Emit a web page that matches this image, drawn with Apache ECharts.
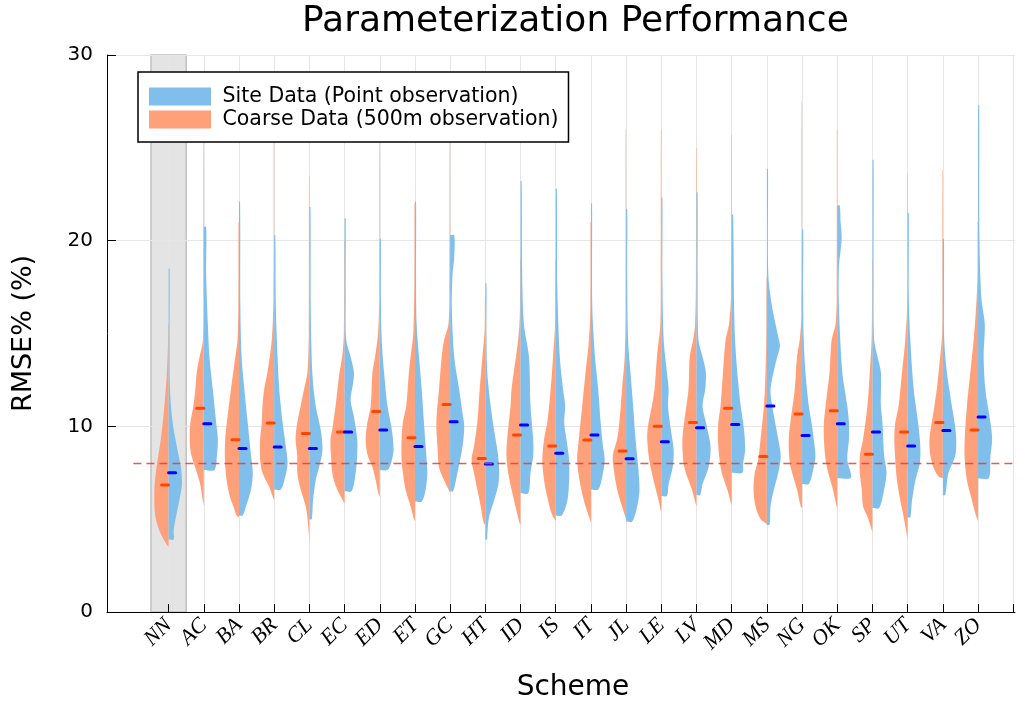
<!DOCTYPE html>
<html>
<head>
<meta charset="utf-8">
<title>Parameterization Performance</title>
<script src="https://cdn.jsdelivr.net/npm/echarts@6/dist/echarts.min.js"></script>
<style>
  html, body {margin:0; padding:0; background:#fff;}
  #chart {width:1034px; height:704px;}
</style>
</head>
<body>
<div id="chart"></div>
<script>
// schemes along the x axis (position 1..24)
const schemes = ['NN','AC','BA','BR','CL','EC','ED','ET','GC','HT','ID','IS','IT','JL','LE','LV','MD','MS','NG','OK','SP','UT','VA','ZO'];

// medians, RMSE %
const coarseMedian = [6.84,10.97,9.28,10.18,9.62,9.7,10.8,9.39,11.18,8.27,9.53,8.94,9.26,8.67,10.0,10.2,10.97,8.37,10.66,10.84,8.49,9.7,10.2,9.8];
const siteMedian   = [7.5,10.14,8.8,8.89,8.8,9.7,9.8,8.92,10.25,7.97,10.07,8.55,9.53,8.26,9.17,9.93,10.1,11.1,9.5,10.14,9.7,8.94,9.77,10.5];

// density outline of each half violin: [RMSE %, relative width], bottom to top
const coarseShape = [
  [[3.5,0],[3.6,0.1],[4.2,0.55],[5.0,0.9],[5.7,1],[6.75,1],[7.8,0.86],[9.3,0.55],[11.1,0.3],[12.9,0.12],[14.5,0.04],[15.5,0.03]],
  [[5.7,0],[6.0,0.07],[6.9,0.26],[7.65,0.55],[8.5,0.9],[9.3,1],[10.2,0.95],[11.1,0.74],[12,0.6],[12.9,0.5],[13.75,0.3],[14.65,0.06],[18,0.04],[25.5,0.03]],
  [[5.1,0],[5.2,0.17],[5.7,0.4],[6.2,0.64],[7.1,0.88],[8.2,1],[9.3,0.98],[10.2,0.86],[12,0.57],[13.75,0.26],[14.65,0.1],[17,0.04],[21,0.03]],
  [[6.0,0],[6.1,0.05],[6.75,0.36],[7.5,0.83],[8.2,1],[9.3,1],[10.2,0.88],[11.1,0.83],[12,0.71],[12.9,0.48],[14.65,0.17],[17,0.05],[26,0.03]],
  [[3.7,0],[4.8,0.1],[5.7,0.26],[6.6,0.62],[7.5,0.86],[8.4,0.86],[9.3,0.98],[10.2,0.86],[11.1,0.62],[12,0.38],[12.9,0.14],[15,0.04],[23.5,0.03]],
  [[5.85,0],[6.0,0.12],[6.6,0.52],[7.3,0.83],[8.2,0.95],[9.3,1],[9.8,0.88],[11.1,0.64],[12.9,0.36],[13.75,0.17],[15,0.05],[20,0.03]],
  [[6.2,0],[6.4,0.1],[7.1,0.29],[7.8,0.52],[8.5,0.88],[9.3,1],[10.2,0.88],[11.1,0.64],[12.9,0.52],[13.75,0.33],[15,0.12],[17,0.04],[25.5,0.03]],
  [[4.9,0],[5.0,0.07],[5.7,0.31],[6.6,0.67],[7.5,0.86],[8.2,0.95],[9.3,0.95],[10.2,0.86],[11.1,0.62],[12.9,0.43],[13.75,0.31],[15,0.12],[18,0.04],[22,0.03]],
  [[6.4,0],[6.6,0.12],[7.1,0.43],[7.8,0.79],[8.9,0.9],[10.2,0.98],[12,0.79],[13.75,0.6],[14.65,0.43],[15.5,0.12],[17,0.05],[26,0.03]],
  [[4.7,0],[4.8,0.12],[5.7,0.33],[6.6,0.57],[7.5,0.81],[8.2,0.98],[8.9,0.81],[10.2,0.57],[12,0.4],[13.75,0.21],[15.2,0.05],[17,0.03]],
  [[4.7,0],[4.8,0.07],[5.7,0.36],[6.6,0.64],[7.5,0.88],[8.4,1],[9.3,0.95],[11.1,0.71],[12,0.64],[12.9,0.48],[14.65,0.17],[16,0.05],[19,0.03]],
  [[4.87,0],[5.3,0.29],[6.2,0.6],[7.1,0.83],[8.2,0.95],[9.3,0.83],[10.2,0.6],[12,0.36],[13.75,0.19],[15.5,0.05],[19,0.03]],
  [[4.8,0],[5.3,0.21],[6.0,0.5],[7.1,0.81],[8.2,0.98],[9.3,0.86],[10.2,0.74],[11.1,0.62],[12.9,0.38],[14.65,0.14],[16.5,0.04],[21,0.03]],
  [[5.0,0],[5.7,0.29],[6.6,0.64],[7.7,0.88],[8.4,0.95],[9.3,0.64],[10.2,0.48],[12,0.29],[13.75,0.1],[16,0.04],[26,0.03]],
  [[5.3,0],[6.0,0.19],[7.1,0.55],[8.2,0.86],[9.3,1],[10.0,0.95],[11.1,0.67],[12,0.48],[13.75,0.31],[15.5,0.07],[18,0.04],[26,0.03]],
  [[5.7,0],[5.8,0.05],[6.6,0.33],[7.5,0.76],[8.2,0.95],[9.3,1],[10.2,0.88],[12,0.57],[13.75,0.48],[14.65,0.24],[15.5,0.1],[18,0.04],[25,0.03]],
  [[5.75,0],[5.85,0.05],[6.6,0.31],[7.5,0.71],[8.2,0.86],[9.3,0.98],[10.2,0.95],[11.1,0.79],[12.9,0.62],[14.65,0.43],[15.5,0.19],[17,0.05],[25.7,0.03]],
  [[4.7,0],[4.8,0.1],[5.0,0.45],[5.7,0.81],[6.6,0.95],[7.5,0.86],[8.2,0.62],[9.3,0.45],[11.1,0.21],[12.9,0.1],[15,0.04],[18,0.03]],
  [[5.6,0],[5.7,0.1],[6.6,0.36],[7.5,0.71],[8.2,0.9],[9.3,0.95],[10.2,0.83],[12,0.52],[13.75,0.36],[14.65,0.17],[16,0.05],[27.5,0.03]],
  [[5.6,0],[5.7,0.05],[6.6,0.31],[7.5,0.64],[8.2,0.83],[9.3,0.95],[10.2,0.95],[11.1,0.83],[12.9,0.55],[14.65,0.4],[15.5,0.12],[17,0.04],[26,0.03]],
  [[4.3,0],[5.15,0.36],[5.7,0.67],[6.6,0.76],[7.5,0.9],[8.4,0.9],[9.3,0.67],[11.1,0.36],[12.9,0.19],[15,0.05],[19,0.03]],
  [[3.9,0],[5.15,0.29],[6.0,0.52],[7.1,0.76],[8.2,0.88],[9.3,0.95],[10.2,0.88],[11.1,0.64],[12.9,0.4],[14.65,0.17],[16.5,0.04],[23.6,0.03]],
  [[7.2,0],[7.3,0.31],[7.8,0.67],[8.5,0.9],[9.3,0.95],[10.2,0.79],[11.1,0.6],[12,0.43],[13.75,0.19],[15,0.05],[18,0.04],[23.8,0.03]],
  [[4.87,0],[5.3,0.19],[6.0,0.43],[7.1,0.79],[8.2,0.95],[9.3,0.95],[11.1,0.79],[12.9,0.55],[14.65,0.31],[16.4,0.14],[18,0.04],[21,0.03]]
];
const siteShape = [
  [[3.9,0.36],[4.4,0.36],[5.1,0.52],[6.0,0.76],[6.9,0.95],[7.8,0.88],[8.7,0.64],[10.2,0.29],[12,0.1],[15,0.07],[18.5,0.07]],
  [[7.65,0.76],[8.4,0.93],[9.3,1],[10.2,0.88],[12,0.64],[13.75,0.4],[15.5,0.29],[18.2,0.17],[20.75,0.17]],
  [[5.2,0.26],[5.7,0.5],[6.6,0.86],[7.5,0.98],[8.4,0.86],[10.2,0.62],[12,0.38],[13.75,0.19],[16.4,0.1],[22.1,0.08]],
  [[6.6,0.48],[7.3,0.79],[8.0,0.95],[8.9,0.83],[10.2,0.6],[12,0.36],[13.75,0.24],[16.4,0.12],[20.3,0.08]],
  [[5.0,0.17],[6.0,0.26],[7.1,0.45],[7.8,0.69],[8.7,0.93],[9.8,0.81],[11.1,0.45],[12.9,0.21],[16.4,0.1],[21.8,0.08]],
  [[6.5,0.5],[7.5,0.79],[8.5,0.9],[9.3,0.9],[10.5,0.67],[11.4,0.43],[12.3,0.6],[12.9,0.67],[13.75,0.43],[14.65,0.12],[17,0.08],[21.2,0.08]],
  [[7.65,0.55],[8.0,0.79],[8.7,0.98],[9.8,0.86],[11.1,0.55],[12.9,0.31],[14.65,0.14],[17,0.08],[20.1,0.08]],
  [[5.95,0.48],[6.6,0.76],[7.5,0.88],[8.4,0.81],[10.2,0.64],[12,0.48],[13.75,0.29],[15.5,0.12],[18,0.08],[22.1,0.08]],
  [[6.5,0.21],[7.5,0.52],[8.9,0.88],[10.0,1],[10.7,0.88],[12,0.64],[13.75,0.29],[16.4,0.12],[18.2,0.17],[19.1,0.29],[20.3,0.29]],
  [[3.9,0.12],[4.2,0.14],[5.1,0.26],[6.0,0.62],[6.9,0.93],[7.8,0.98],[8.7,0.86],[9.8,0.62],[11.1,0.38],[12.9,0.14],[15,0.08],[17.7,0.08]],
  [[6.4,0.55],[7.5,0.71],[8.4,0.9],[9.3,0.9],[11.1,0.71],[13.75,0.6],[15.5,0.24],[18.2,0.12],[23.2,0.08]],
  [[5.2,0.43],[6.0,0.83],[7.1,0.95],[8.2,0.95],[9.3,0.76],[10.2,0.6],[11.1,0.67],[12,0.52],[13.75,0.29],[17.3,0.12],[22.8,0.08]],
  [[6.6,0.52],[7.3,0.81],[8.2,0.98],[8.9,0.86],[10.2,0.69],[12,0.52],[13.75,0.29],[16.4,0.1],[22.0,0.08]],
  [[4.87,0.43],[5.7,0.79],[6.6,0.95],[7.8,0.86],[9.3,0.67],[11.1,0.5],[12.9,0.31],[14.65,0.14],[18,0.08],[21.7,0.08]],
  [[6.25,0.4],[6.9,0.52],[7.8,0.81],[8.7,0.88],[10.0,0.64],[11.1,0.48],[12,0.52],[12.9,0.4],[14.65,0.17],[18,0.08],[22.3,0.08]],
  [[6.3,0.26],[6.9,0.43],[7.8,0.86],[8.9,1],[10.2,0.67],[11.1,0.43],[12,0.62],[12.9,0.67],[13.75,0.43],[14.65,0.14],[18,0.08],[22.6,0.08]],
  [[7.5,0.76],[8.0,0.81],[8.7,0.95],[9.8,0.88],[11.1,0.64],[12.9,0.4],[14.65,0.24],[16.4,0.17],[21.4,0.1]],
  [[4.7,0.19],[5.7,0.26],[6.6,0.5],[7.5,0.81],[8.4,0.98],[9.3,0.81],[11.1,0.38],[12,0.26],[13.4,0.62],[14.3,0.93],[14.65,0.86],[16.4,0.38],[18.2,0.1],[23.85,0.08]],
  [[6.9,0.48],[7.8,0.83],[8.4,0.95],[9.3,0.83],[10.2,0.67],[11.1,0.48],[12.9,0.24],[14.65,0.12],[17,0.08],[20.6,0.08]],
  [[7.2,0.95],[7.5,0.95],[8.2,0.71],[9.3,0.83],[10.2,0.83],[11.1,0.71],[12.9,0.36],[16.4,0.12],[18.6,0.12],[20.1,0.31],[20.96,0.24],[21.9,0.17]],
  [[5.6,0.48],[6.6,0.83],[7.5,1],[8.4,0.83],[10.2,0.71],[11.1,0.6],[12.9,0.6],[13.75,0.36],[14.65,0.12],[18,0.08],[24.35,0.08]],
  [[5.1,0.19],[6.0,0.31],[7.1,0.55],[8.0,0.86],[8.9,0.9],[10.2,0.74],[12,0.43],[14.65,0.19],[17,0.08],[21.5,0.08]],
  [[6.3,0.17],[7.5,0.4],[8.4,0.88],[9.3,0.95],[10.2,0.83],[11.1,0.64],[12.9,0.29],[14.65,0.1],[17,0.08],[20.1,0.08]],
  [[7.2,0.76],[8.4,0.88],[9.3,1],[10.2,0.88],[12,0.52],[13.75,0.4],[15.5,0.48],[16.9,0.24],[20.1,0.1],[27.3,0.08]]
];

const refLine = 8;          // dashed reference, RMSE %
const refSpan = [0, 25];    // x extent of the reference line
const shaded = 'NN';        // highlighted scheme

const siteName = 'Site Data (Point observation)';
const coarseName = 'Coarse Data (500m observation)';
const siteColor = '#80bfec';
const coarseColor = '#fea07a';
const HALF = 0.4;  // max half width of a violin, x units

var chart = echarts.init(document.getElementById('chart'));

var positions = schemes.map(function (s, i) { return [i + 1]; });
var tickVals = schemes.map(function (s, i) { return i + 1; });

function halfViolin(shapes, side, color) {
  return function (params, api) {
    var x = api.value(0);
    var prof = shapes[params.dataIndex];
    var bot = api.coord([x, prof[0][0]]);
    var top = api.coord([x, prof[prof.length - 1][0]]);
    // corners doubled so the centre edge stays straight when smoothed
    var pts = [bot, bot];
    prof.forEach(function (p) {
      pts.push(api.coord([x + side * p[1] * HALF, p[0]]));
    });
    pts.push(top, top);
    return {
      type: 'polygon',
      shape: {points: pts, smooth: 0.3},
      style: {fill: color}
    };
  };
}

function medianMark(medians, side, color) {
  return function (params, api) {
    var x = api.value(0);
    var m = medians[params.dataIndex];
    var a = api.coord([x + (side < 0 ? -0.2 : 0), m]);
    var b = api.coord([x + (side < 0 ? 0 : 0.2), m]);
    return {
      type: 'line',
      shape: {x1: a[0], y1: a[1], x2: b[0], y2: b[1]},
      style: {stroke: color, lineWidth: 3, lineCap: 'round'}
    };
  };
}

var option = {
  animation: false,
  backgroundColor: '#fff',
  title: {
    text: 'Parameterization Performance',
    left: 297, top: -1,
    textStyle: {fontFamily: 'DejaVu Sans', fontSize: 36, fontWeight: 'normal', color: '#000'}
  },
  legend: {
    data: [siteName, coarseName],
    orient: 'vertical',
    left: 138, top: 72,
    icon: 'rect',
    itemWidth: 62, itemHeight: 18, itemGap: 2,
    padding: [14, 10, 12, 11],
    borderColor: '#000', borderWidth: 1.5,
    backgroundColor: '#fff',
    selectedMode: false,
    textStyle: {fontFamily: 'DejaVu Sans', fontSize: 20.5, lineHeight: 18, color: '#000'},
    formatter: function (n) { return ' ' + n; }
  },
  grid: {left: 107, right: 19, top: 55, bottom: 92, outerBoundsMode: 'none'},
  xAxis: {
    type: 'value',
    min: -0.75, max: 25.05,
    name: 'Scheme', nameLocation: 'middle', nameGap: 62,
    nameTextStyle: {fontFamily: 'DejaVu Sans', fontSize: 28, color: '#000', padding: [0, 0, 0, 24]},
    axisLine: {onZero: false, lineStyle: {color: '#000', width: 1}},
    axisTick: {inside: true, length: 8, lineStyle: {color: '#000'}, customValues: tickVals.concat([25])},
    axisLabel: {
      customValues: tickVals,
      rotate: 45, margin: 10,
      fontFamily: 'Liberation Serif', fontStyle: 'italic', fontSize: 22, color: '#000',
      formatter: function (v) { return schemes[v - 1] || ''; }
    },
    splitLine: {show: true, lineStyle: {color: '#e6e6e6', width: 1}}
  },
  yAxis: {
    type: 'value',
    min: 0, max: 30, interval: 10,
    name: 'RMSE% (%)', nameLocation: 'middle', nameGap: 70,
    nameTextStyle: {fontFamily: 'DejaVu Sans', fontSize: 27, color: '#000'},
    axisLine: {show: true, onZero: false, lineStyle: {color: '#000', width: 1}},
    axisTick: {show: true, inside: true, length: 9, lineStyle: {color: '#000'}},
    axisLabel: {margin: 14, fontFamily: 'DejaVu Sans', fontSize: 20, color: '#000'},
    splitLine: {show: true, lineStyle: {color: '#e6e6e6', width: 1}}
  },
  series: [
    {
      name: 'shade', type: 'custom', z: -1, silent: true,
      data: [[schemes.indexOf(shaded) + 1]],
      renderItem: function (params, api) {
        var x = api.value(0);
        var a = api.coord([x - 0.5, 30]);
        var b = api.coord([x + 0.5, 0]);
        return {
          type: 'rect',
          shape: {x: a[0], y: a[1], width: b[0] - a[0], height: b[1] - a[1]},
          style: {fill: '#e4e4e4', stroke: '#c2c2c2', lineWidth: 1.5}
        };
      }
    },
    {
      name: coarseName, type: 'custom', z: 2,
      itemStyle: {color: coarseColor},
      data: positions,
      renderItem: halfViolin(coarseShape, -1, coarseColor)
    },
    {
      name: siteName, type: 'custom', z: 2,
      itemStyle: {color: siteColor},
      data: positions,
      renderItem: halfViolin(siteShape, 1, siteColor)
    },
    {
      name: 'coarseMedian', type: 'custom', z: 3,
      data: positions,
      renderItem: medianMark(coarseMedian, -1, '#ff4500')
    },
    {
      name: 'siteMedian', type: 'custom', z: 3,
      data: positions,
      renderItem: medianMark(siteMedian, 1, '#0000ff')
    },
    {
      name: 'ref', type: 'line', z: 4, silent: true,
      data: [[refSpan[0], refLine], [refSpan[1], refLine]],
      showSymbol: false, symbol: 'none',
      lineStyle: {color: 'rgba(232,60,50,0.85)', width: 1.5, type: [8, 5]}
    }
  ]
};

chart.setOption(option);
</script>
</body>
</html>
